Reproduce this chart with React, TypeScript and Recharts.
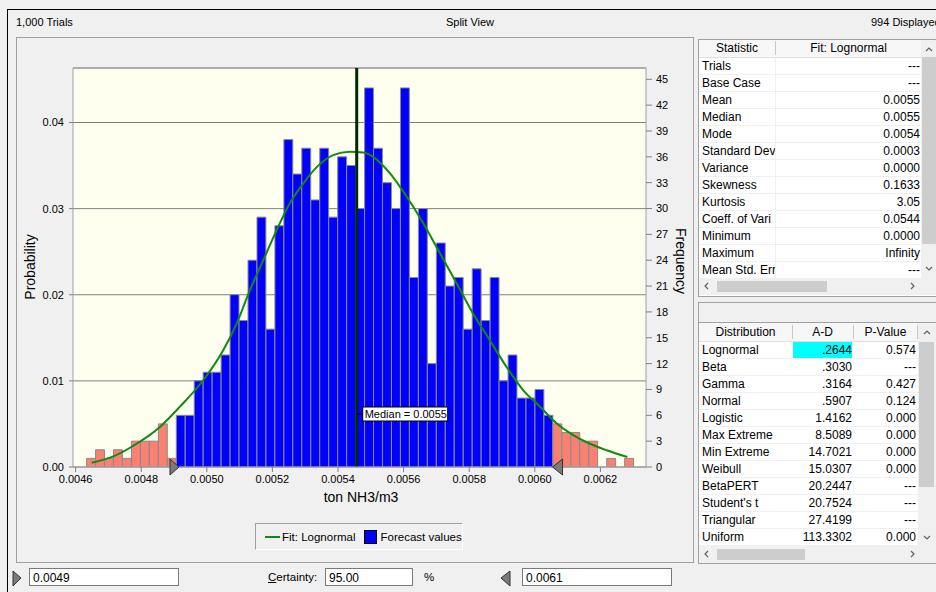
import React from 'react'
import {
  Bar,
  Cell,
  ComposedChart,
  CartesianGrid,
  Label,
  Legend,
  Line,
  ReferenceDot,
  ReferenceLine,
  XAxis,
  YAxis,
} from 'recharts'

// histogram bins (ton NH3/m3)
const BIN_START = 0.0046335
const BIN_WIDTH = 0.00002734
const frequencies = [
  1, 2, 1, 2, 1, 3, 3, 3, 5, 1,
  6, 6, 10, 11, 11, 13, 20, 17, 24, 29, 16, 28, 38, 34, 37, 31, 37, 29, 36, 35, 30,
  44, 37, 33, 30, 44, 22, 30, 12, 26, 21, 22, 16, 23, 17, 22, 10, 13, 8, 8, 9, 6,
  5, 4, 4, 3, 3, 0, 1, 0, 1,
]

// certainty range and median
const CERT_LOW = 0.004906
const CERT_HIGH = 0.006054
const MEDIAN = 0.005457

// fitted lognormal curve (frequency units)
const fitX = [
  0.004649, 0.004715, 0.004786, 0.004857, 0.004918, 0.004989, 0.00505, 0.005091, 0.005131,
  0.005172, 0.005213, 0.005253, 0.005294, 0.005335, 0.005385, 0.005436, 0.005477, 0.005507,
  0.005558, 0.005609, 0.00566, 0.005711, 0.005762, 0.005812, 0.005863, 0.005914, 0.005965,
  0.006016, 0.006067, 0.006117, 0.006168, 0.006219, 0.006282,
]
const fitY = [
  0.5, 1.24, 2.7, 4.65, 7.0, 10.07, 13.55, 16.65, 20.5, 24.0, 27.5, 30.6, 32.9, 34.8, 36.2,
  36.6, 36.5, 36.0, 34.1, 31.4, 28.3, 24.8, 21.3, 17.8, 14.7, 11.6, 8.9, 7.0, 5.04, 3.7, 2.7,
  1.94, 1.16,
]

const xTicks = [0.0046, 0.0048, 0.005, 0.0052, 0.0054, 0.0056, 0.0058, 0.006, 0.0062]
const probTicks = [0, 0.01, 0.02, 0.03, 0.04]
const freqTicks = [0, 3, 6, 9, 12, 15, 18, 21, 24, 27, 30, 33, 36, 39, 42, 45]

const statNames = [
  'Trials', 'Base Case', 'Mean', 'Median', 'Mode', 'Standard Dev', 'Variance', 'Skewness',
  'Kurtosis', 'Coeff. of Vari', 'Minimum', 'Maximum', 'Mean Std. Err',
]
const statValues = [
  '---', '---', '0.0055', '0.0055', '0.0054', '0.0003', '0.0000', '0.1633', '3.05', '0.0544',
  '0.0000', 'Infinity', '---',
]

const distNames = [
  'Lognormal', 'Beta', 'Gamma', 'Normal', 'Logistic', 'Max Extreme', 'Min Extreme', 'Weibull',
  'BetaPERT', "Student's t", 'Triangular', 'Uniform',
]
const distAD = [
  '.2644', '.3030', '.3164', '.5907', '1.4162', '8.5089', '14.7021', '15.0307', '20.2447',
  '20.7524', '27.4199', '113.3302',
]
const distP = [
  '0.574', '---', '0.427', '0.124', '0.000', '0.000', '0.000', '0.000', '---', '---', '---', '0.000',
]

const X_MIN = 0.004592
const X_MAX = 0.006339
const FREQ_MAX = 46.31
const PROB_MAX = 0.04633

const BLUE = '#0000FF'
const SALMON = '#FA8072'
const GREEN = '#108A10'
const FONT = '"Liberation Sans", Arial, sans-serif'

const bins = frequencies.map((freq, i) => {
  const x = BIN_START + (i + 0.5) * BIN_WIDTH
  return { x, freq, tail: x < CERT_LOW || x > CERT_HIGH }
})
const fitData = fitX.map((x, i) => ({ x, fit: fitY[i] }))

function MedianLabel({ viewBox }: any) {
  if (!viewBox) return null
  const x = viewBox.x
  const y = viewBox.y + viewBox.height - 60
  return (
    <g>
      <line x1={x} x2={x + 6} y1={y + 7} y2={y + 7} stroke="#000" />
      <rect x={x + 6} y={y} width={85} height={14} fill="#fff" stroke="#000" />
      <text x={x + 8} y={y + 11} fontSize={11} fill="#000">
        Median = 0.0055
      </text>
    </g>
  )
}

const LeftMarker = ({ cx, cy }: any) => (
  <polygon points={`${cx - 6},${cy - 8} ${cx - 6},${cy + 8} ${cx + 3},${cy}`} fill="#7a7a7a" stroke="#333" />
)
const RightMarker = ({ cx, cy }: any) => (
  <polygon points={`${cx + 10},${cy - 8} ${cx + 10},${cy + 8} ${cx},${cy}`} fill="#7a7a7a" stroke="#333" />
)

function ChartLegend() {
  return (
    <div
      style={{
        width: 206,
        height: 25,
        borderTop: '1px solid #A0A0A0',
        borderLeft: '1px solid #A0A0A0',
        borderRight: '1px solid #fff',
        borderBottom: '1px solid #fff',
        display: 'flex',
        alignItems: 'center',
        fontSize: 11.5,
        fontFamily: FONT,
      }}
    >
      <span style={{ width: 15, height: 2, background: GREEN, marginLeft: 9, marginRight: 2 }} />
      <span>Fit: Lognormal</span>
      <span style={{ width: 11, height: 12, background: BLUE, border: '1px solid #000', marginLeft: 8, marginRight: 4 }} />
      <span>Forecast values</span>
    </div>
  )
}

function Chevron({ x, y, dir }: { x: number; y: number; dir: 'up' | 'down' | 'left' | 'right' }) {
  const pts = {
    up: `${x - 3},${y + 2} ${x},${y - 1} ${x + 3},${y + 2}`,
    down: `${x - 3},${y - 2} ${x},${y + 1} ${x + 3},${y - 2}`,
    left: `${x + 2},${y - 3} ${x - 1},${y} ${x + 2},${y + 3}`,
    right: `${x - 2},${y - 3} ${x + 1},${y} ${x - 2},${y + 3}`,
  }[dir]
  return (
    <svg style={{ position: 'absolute', left: 0, top: 0, overflow: 'visible' }} width={1} height={1}>
      <polyline points={pts} fill="none" stroke="#606060" strokeWidth={1.2} />
    </svg>
  )
}

const abs = (left: number, top: number, extra: React.CSSProperties = {}): React.CSSProperties => ({
  position: 'absolute',
  left,
  top,
  ...extra,
})

function StatsPanel() {
  return (
    <div style={abs(698, 39, { width: 240, height: 256, border: '1px solid #A0A0A0', background: '#fff', overflow: 'hidden', fontSize: 12 })}>
      <div style={abs(0, 0, { width: 222, height: 17, background: '#F7F7F7', borderBottom: '1px solid #E0E0E0' })}>
        <div style={abs(0, 1, { width: 76, textAlign: 'center' })}>Statistic</div>
        <div style={abs(76, 1, { width: 1, height: 14, background: '#C8C8C8' })} />
        <div style={abs(77, 1, { width: 145, textAlign: 'center' })}>Fit: Lognormal</div>
      </div>
      {statNames.map((n, i) => (
        <div key={n} style={abs(0, 18 + i * 17, { width: 222, height: 16, borderBottom: '1px solid #F0F0F0' })}>
          <span style={abs(3, 1)}>{n}</span>
          <div style={abs(76, 0, { width: 1, height: 16, background: '#F0F0F0' })} />
          <span style={abs(0, 1, { left: 'auto', right: 1 })}>{statValues[i]}</span>
        </div>
      ))}
      {/* vertical scrollbar */}
      <div style={abs(222, 0, { width: 18, height: 238, background: '#F0F0F0' })}>
        <div style={abs(1, 17, { width: 15, height: 187, background: '#CDCDCD' })} />
        <Chevron x={8} y={9} dir="up" />
        <Chevron x={8} y={229} dir="down" />
      </div>
      {/* horizontal scrollbar */}
      <div style={abs(0, 238, { width: 240, height: 17, background: '#F0F0F0' })}>
        <div style={abs(18, 3, { width: 110, height: 11, background: '#CDCDCD' })} />
        <Chevron x={7} y={8} dir="left" />
        <Chevron x={214} y={8} dir="right" />
      </div>
    </div>
  )
}

function DistPanel() {
  const cols = [
    { left: 0, width: 93 },
    { left: 93, width: 61 },
    { left: 154, width: 65 },
  ]
  return (
    <div style={abs(698, 302, { width: 240, height: 260, border: '1px solid #A0A0A0', background: '#fff', overflow: 'hidden', fontSize: 12 })}>
      <div style={abs(0, 0, { width: 240, height: 19, background: '#F0F0F0', borderBottom: '1px solid #A0A0A0' })} />
      <div style={abs(0, 20, { width: 219, height: 18, background: '#F7F7F7', borderBottom: '1px solid #E0E0E0' })}>
        <div style={abs(cols[0].left, 2, { width: cols[0].width, textAlign: 'center' })}>Distribution</div>
        <div style={abs(cols[1].left, 2, { width: cols[1].width, textAlign: 'center' })}>A-D</div>
        <div style={abs(cols[2].left, 2, { width: cols[2].width, textAlign: 'center' })}>P-Value</div>
        <div style={abs(93, 2, { width: 1, height: 14, background: '#C8C8C8' })} />
        <div style={abs(154, 2, { width: 1, height: 14, background: '#C8C8C8' })} />
        <div style={abs(218, 2, { width: 1, height: 14, background: '#C8C8C8' })} />
      </div>
      {distNames.map((n, i) => (
        <div key={n} style={abs(0, 39 + i * 17, { width: 219, height: 16, borderBottom: '1px solid #F0F0F0' })}>
          {i === 0 && <div style={abs(94, 0, { width: 59, height: 16, background: '#00FFFF' })} />}
          <span style={abs(3, 1)}>{n}</span>
          <span style={abs(0, 1, { left: 'auto', right: 66 })}>{distAD[i]}</span>
          <span style={abs(0, 1, { left: 'auto', right: 2 })}>{distP[i]}</span>
        </div>
      ))}
      <div style={abs(219, 20, { width: 21, height: 223, background: '#F0F0F0' })}>
        <div style={abs(1, 19, { width: 15, height: 145, background: '#CDCDCD' })} />
        <Chevron x={9} y={9} dir="up" />
        <Chevron x={9} y={215} dir="down" />
      </div>
      <div style={abs(0, 243, { width: 240, height: 17, background: '#F0F0F0' })}>
        <div style={abs(18, 3, { width: 88, height: 11, background: '#CDCDCD' })} />
        <Chevron x={7} y={8} dir="left" />
        <Chevron x={214} y={8} dir="right" />
      </div>
    </div>
  )
}

function InputBox({ left, width, value }: { left: number; width: number; value: string }) {
  return (
    <div style={abs(left, 568, { width, height: 18, border: '1px solid #7A7A7A', background: '#fff', fontSize: 12, lineHeight: '18px', paddingLeft: 3, boxSizing: 'border-box' })}>
      {value}
    </div>
  )
}

export default function App() {
  return (
    <div style={{ position: 'absolute', left: 0, top: 0, width: 936, height: 592, background: '#F0F0F0', overflow: 'hidden', fontFamily: FONT, color: '#000' }}>
      <div style={abs(7, 9, { width: 940, height: 600, borderTop: '1px solid #000', borderLeft: '1px solid #000' })} />
      <div style={abs(16, 16, { fontSize: 11 })}>1,000 Trials</div>
      <div style={abs(420, 16, { fontSize: 11, width: 100, textAlign: 'center' })}>Split View</div>
      <div style={abs(871, 16, { fontSize: 11, whiteSpace: 'nowrap' })}>994 Displayed</div>

      <div style={abs(16, 37, { width: 676, height: 524, border: '1px solid #A0A0A0' })} />

      <div style={abs(0, 0)}>
        <ComposedChart width={700} height={520} data={bins} margin={{ top: 68, right: 14, bottom: 23, left: 33 }}>
          <CartesianGrid yAxisId="p" vertical={false} stroke="#808080" fill="#FFFFF0" />
          <XAxis
            dataKey="x"
            type="number"
            domain={[X_MIN, X_MAX]}
            allowDataOverflow
            ticks={xTicks}
            tickFormatter={(v: number) => v.toFixed(4)}
            tick={{ fill: '#000', fontSize: 11 }}
            tickSize={5}
            tickMargin={3}
            tickLine={{ stroke: '#808080' }}
            axisLine={{ stroke: '#A0A0A0' }}
            height={30}
          >
            <Label
              content={() => (
                <text x={361} y={497} textAnchor="middle" dominantBaseline="central" fontSize={14} fill="#000">
                  ton NH3/m3
                </text>
              )}
            />
          </XAxis>
          {/* separate hidden x axis for the fitted curve so it does not shrink the bar band */}
          <XAxis xAxisId="fit" dataKey="x" type="number" domain={[X_MIN, X_MAX]} allowDataOverflow hide />
          <YAxis
            yAxisId="p"
            domain={[0, PROB_MAX]}
            allowDataOverflow
            ticks={probTicks}
            tickFormatter={(v: number) => v.toFixed(2)}
            tick={{ fill: '#000', fontSize: 11 }}
            tickSize={4}
            tickMargin={5}
            tickLine={{ stroke: '#808080' }}
            axisLine={{ stroke: '#A0A0A0' }}
            width={40}
          >
            <Label
              content={() => (
                <text transform="translate(30,267) rotate(-90)" textAnchor="middle" dominantBaseline="central" fontSize={14} fill="#000">
                  Probability
                </text>
              )}
            />
          </YAxis>
          <YAxis
            yAxisId="f"
            orientation="right"
            domain={[0, FREQ_MAX]}
            allowDataOverflow
            ticks={freqTicks}
            tick={{ fill: '#000', fontSize: 11 }}
            tickSize={6}
            tickMargin={4}
            tickLine={{ stroke: '#808080' }}
            axisLine={{ stroke: '#A0A0A0' }}
            width={40}
          >
            <Label
              content={() => (
                <text transform="translate(681,261) rotate(90)" textAnchor="middle" dominantBaseline="central" fontSize={14} fill="#000">
                  Frequency
                </text>
              )}
            />
          </YAxis>
          <ReferenceLine yAxisId="p" y={PROB_MAX} stroke="#A0A0A0" />
          <Bar dataKey="freq" yAxisId="f" barSize={8.9} stroke="#8a8a8a" isAnimationActive={false} name="Forecast values">
            {bins.map((b, i) => (
              <Cell key={i} fill={b.tail ? SALMON : BLUE} />
            ))}
          </Bar>
          <Line
            data={fitData}
            dataKey="fit"
            xAxisId="fit"
            yAxisId="f"
            type="monotone"
            stroke={GREEN}
            strokeWidth={2}
            dot={false}
            isAnimationActive={false}
            name="Fit: Lognormal"
          />
          <ReferenceLine yAxisId="f" x={MEDIAN} stroke="#002800" strokeWidth={3} label={<MedianLabel />} />
          <ReferenceDot yAxisId="f" x={CERT_LOW} y={0} shape={<LeftMarker />} ifOverflow="visible" />
          <ReferenceDot yAxisId="f" x={CERT_HIGH} y={0} shape={<RightMarker />} ifOverflow="visible" />
          <Legend
            layout="vertical"
            align="center"
            verticalAlign="middle"
            wrapperStyle={{ left: 255, top: 523, width: 208, height: 27 }}
            content={() => <ChartLegend />}
          />
        </ComposedChart>
      </div>

      <StatsPanel />
      <DistPanel />

      <svg style={abs(0, 562)} width={30} height={30}>
        <polygon points="13,9 13,24 21,16" fill="#7a7a7a" stroke="#333" />
      </svg>
      <svg style={abs(495, 562)} width={20} height={30}>
        <polygon points="15,9 15,24 6,16" fill="#7a7a7a" stroke="#333" />
      </svg>
      <InputBox left={29} width={150} value="0.0049" />
      <div style={abs(268, 571, { fontSize: 11.5 })}>
        <u>C</u>ertainty:
      </div>
      <InputBox left={325} width={88} value="95.00" />
      <div style={abs(424, 571, { fontSize: 11.5 })}>%</div>
      <InputBox left={522} width={150} value="0.0061" />
    </div>
  )
}
